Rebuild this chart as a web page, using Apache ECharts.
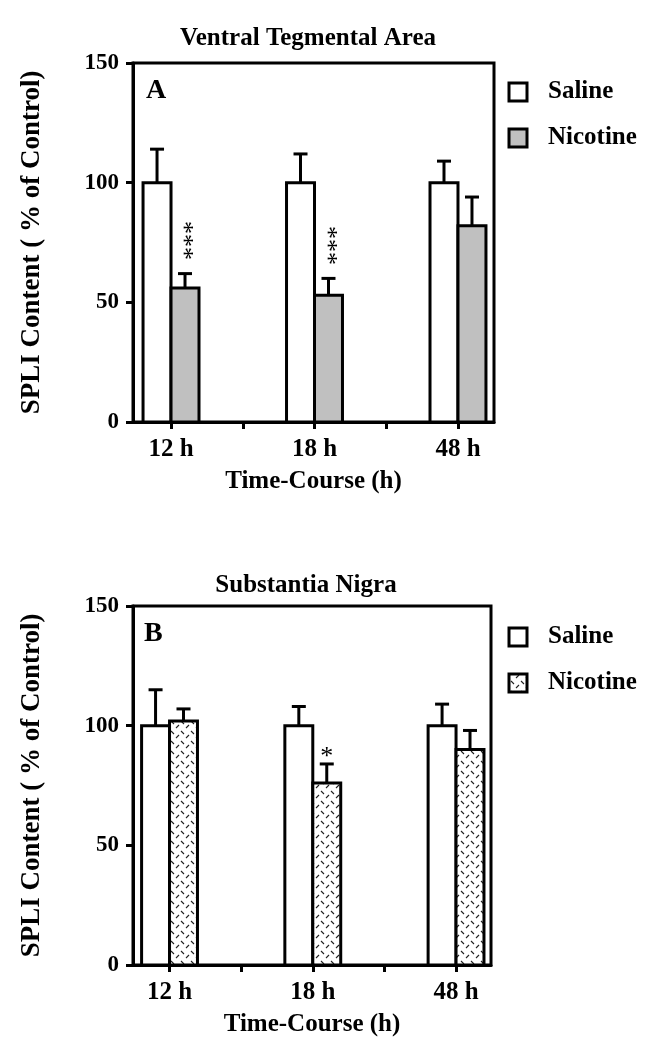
<!DOCTYPE html>
<html>
<head>
<meta charset="utf-8">
<script src="https://cdn.jsdelivr.net/npm/echarts@6/dist/echarts.min.js"></script>
<style>
html,body{margin:0;padding:0;background:#fff;}
#chart{width:651px;height:1050px;}
</style>
</head>
<body>
<div id="chart"></div>
<script>
// ---- data ----
const categories = ['12 h', '18 h', '48 h'];
const yTicks = [0, 50, 100, 150];
const seriesNames = ['Saline', 'Nicotine'];
const panelTitles = ['Ventral Tegmental Area', 'Substantia Nigra'];
const panelLetters = ['A', 'B'];

const vtaSaline = [100, 100, 100];
const vtaSalineSem = [14, 12, 9];
const vtaNicotine = [56, 53, 82];
const vtaNicotineSem = [6, 7, 12];
const vtaSig = ['***', '***', ''];

const snSaline = [100, 100, 100];
const snSalineSem = [15, 8, 9];
const snNicotine = [102, 76, 90];
const snNicotineSem = [5, 8, 8];
const snSig = ['', '*', ''];

// ---- styling ----
const FONT = '"Liberation Serif", "Times New Roman", serif';
const BAR_FRAC = 0.195;

function makePattern() {
  const c = document.createElement('canvas');
  c.width = 10; c.height = 10;
  const g = c.getContext('2d');
  g.fillStyle = '#fff'; g.fillRect(0, 0, 10, 10);
  g.strokeStyle = '#222'; g.lineWidth = 1.1;
  g.beginPath(); g.moveTo(1, 1); g.lineTo(4, 4); g.stroke();
  g.beginPath(); g.moveTo(9, 5); g.lineTo(6, 8); g.stroke();
  return c;
}
const patternFill = { image: makePattern(), repeat: 'repeat' };
const grayFill = '#c0c0c0';

function barSeries(name, gridIdx, means, sems, sigs, fill, side) {
  return {
    type: 'custom',
    name: name,
    xAxisIndex: gridIdx,
    yAxisIndex: gridIdx,
    data: categories.map((c, i) => [i, means[i], sems[i]]),
    renderItem: function (params, api) {
      const i = api.value(0), m = api.value(1), s = api.value(2);
      const unit = api.size([1, 0])[0];
      const bw = unit * BAR_FRAC;
      const c = api.coord([i, m]);
      const base = api.coord([i, 0]);
      const top = api.coord([i, m + s]);
      const x0 = side < 0 ? c[0] - bw : c[0];
      const xc = x0 + bw / 2;
      const children = [
        { type: 'rect', shape: { x: x0, y: c[1], width: bw, height: base[1] - c[1] },
          style: { fill: fill, stroke: '#000', lineWidth: 3 } },
        { type: 'line', shape: { x1: xc, y1: c[1], x2: xc, y2: top[1] },
          style: { stroke: '#000', lineWidth: 3 } },
        { type: 'line', shape: { x1: xc - 7, y1: top[1], x2: xc + 7, y2: top[1] },
          style: { stroke: '#000', lineWidth: 3 } }
      ];
      const sig = sigs[params.dataIndex];
      if (sig) {
        if (sig.length > 1) {
          children.push({ type: 'text', x: xc - 2, y: top[1] - 33, rotation: -Math.PI / 2,
            style: { text: sig, font: 'normal 26px ' + FONT, fill: '#000', align: 'center', verticalAlign: 'middle' } });
        } else {
          children.push({ type: 'text', x: xc, y: top[1] - 7,
            style: { text: sig, font: 'normal 26px ' + FONT, fill: '#000', align: 'center', verticalAlign: 'middle' } });
        }
      }
      return { type: 'group', children: children };
    }
  };
}

const grids = [
  { left: 133, top: 63, width: 361, height: 359, xmin: -0.265, xmax: 2.251 },
  { left: 133, top: 606, width: 358, height: 359, xmin: -0.255, xmax: 2.244 }
];

const labelStyle = { fontFamily: FONT, fontWeight: 'bold', color: '#000' };

const option = {
  animation: false,
  backgroundColor: '#fff',
  title: grids.map((g, k) => ({
    text: panelTitles[k],
    left: k ? 301 : 303,
    top: k ? 568 : 21,
    textAlign: 'center',
    textStyle: { fontFamily: FONT, fontWeight: 'bold', fontSize: 25, color: '#000' }
  })),
  grid: grids.map(g => ({
    left: g.left, top: g.top, width: g.width, height: g.height,
    show: true, borderColor: '#000', borderWidth: 3, backgroundColor: 'transparent',
    containLabel: false
  })),
  xAxis: grids.map((g, k) => ({
    type: 'value', gridIndex: k, min: g.xmin, max: g.xmax,
    name: 'Time-Course (h)', nameLocation: 'middle', nameGap: 47,
    nameTextStyle: Object.assign({ fontSize: 25 }, labelStyle),
    axisLine: { show: true, onZero: false, lineStyle: { color: '#000', width: 3 } },
    axisTick: { show: true, length: 7, lineStyle: { color: '#000', width: 3 },
      customValues: [0, 0.5, 1, 1.5, 2] },
    axisLabel: Object.assign({ fontSize: 25, margin: 15,
      customValues: [0, 1, 2],
      formatter: v => categories[Math.round(v)] }, labelStyle),
    splitLine: { show: false }
  })),
  yAxis: grids.map((g, k) => ({
    type: 'value', gridIndex: k, min: 0, max: 150, interval: 50,
    name: 'SPLI Content ( % of Control)', nameLocation: 'middle', nameGap: 87,
    nameTextStyle: Object.assign({ fontSize: 27 }, labelStyle),
    axisLine: { show: true, onZero: false, lineStyle: { color: '#000', width: 3 } },
    axisTick: { show: true, length: 7, lineStyle: { color: '#000', width: 3 } },
    axisLabel: Object.assign({ fontSize: 23, margin: 14,
      customValues: yTicks }, labelStyle),
    splitLine: { show: false }
  })),
  series: [
    barSeries('Saline', 0, vtaSaline, vtaSalineSem, ['', '', ''], '#fff', -1),
    barSeries('Nicotine', 0, vtaNicotine, vtaNicotineSem, vtaSig, grayFill, 1),
    barSeries('Saline', 1, snSaline, snSalineSem, ['', '', ''], '#fff', -1),
    barSeries('Nicotine', 1, snNicotine, snNicotineSem, snSig, patternFill, 1)
  ],
  graphic: []
};

// panel letters and legends
const legendTops = [92, 637];
const legendFills = [[ '#fff', grayFill ], [ '#fff', patternFill ]];
[0, 1].forEach(k => {
  option.graphic.push({
    type: 'text', left: k ? 144 : 146, top: k ? 620 : 77,
    style: { text: panelLetters[k], font: 'bold 28px ' + FONT, fill: '#000' }
  });
  seriesNames.forEach((n, j) => {
    const cy = legendTops[k] + j * 46;
    option.graphic.push({
      type: 'rect', shape: { x: 509, y: cy - 9, width: 18, height: 18 },
      style: { fill: legendFills[k][j], stroke: '#000', lineWidth: 3 }
    });
    option.graphic.push({
      type: 'text', x: 548, y: cy,
      style: { text: n, font: 'bold 25px ' + FONT, fill: '#000', verticalAlign: 'middle' }
    });
  });
});

const chart = echarts.init(document.getElementById('chart'), null, { renderer: 'canvas' });
chart.setOption(option);
</script>
</body>
</html>
